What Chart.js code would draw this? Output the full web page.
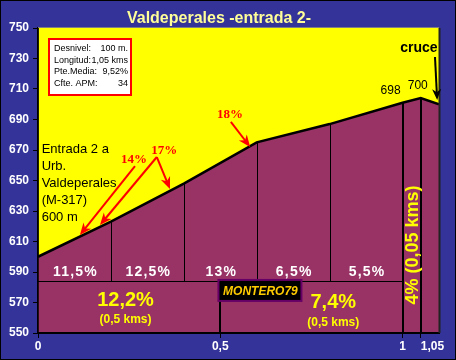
<!DOCTYPE html>
<html>
<head>
<meta charset="utf-8">
<script src="https://cdn.jsdelivr.net/npm/chart.js@4.4.0/dist/chart.umd.min.js"></script>
<style>
  html, body { margin: 0; padding: 0; background: #333399; }
  #wrap { width: 456px; height: 360px; }
</style>
</head>
<body>
<div id="wrap"><canvas id="perfil" width="456" height="360"></canvas></div>
<script>
// perfil: km recorridos y altitud (m)
const kms = [0, 0.2, 0.4, 0.6, 0.8, 1, 1.05, 1.1];
const altitudes = [600, 623, 648, 675, 687, 701, 704, 700];
const tramoGrades = ['11,5%', '12,5%', '13%', '6,5%', '5,5%'];
const pointLabels = ['698', '700'];          // km 1 y 1,05
const summaryGrades = ['12,2%', '7,4%', '4%'];
const summaryLengths = ['(0,5 kms)', '(0,5 kms)', '(0,05 kms)'];
const xTicks = [0, 0.5, 1, 1.05];
const yMin = 550, yMax = 750, yStep = 20;
const infoRows = [
    ['Desnivel:', '100 m.'],
    ['Longitud:', '1,05 kms'],
    ['Pte.Media:', '9,52%'],
    ['Cfte. APM:', '34'],
];
const entradaLines = ['Entrada 2 a', 'Urb.', 'Valdeperales', '(M-317)', '600 m'];
const chartTitle = 'Valdeperales -entrada 2-';

const SANS = 'Arial, "Liberation Sans", sans-serif';
const SERIF = '"Times New Roman", "Liberation Serif", serif';

function arrow(ctx, x1, y1, x2, y2, color, len, wid) {
    const ang = Math.atan2(y2 - y1, x2 - x1);
    ctx.save();
    ctx.strokeStyle = color;
    ctx.fillStyle = color;
    ctx.lineWidth = 2;
    ctx.beginPath();
    ctx.moveTo(x1, y1);
    ctx.lineTo(x2 - Math.cos(ang) * len * 0.6, y2 - Math.sin(ang) * len * 0.6);
    ctx.stroke();
    ctx.translate(x2, y2);
    ctx.rotate(ang);
    ctx.beginPath();
    ctx.moveTo(0, 0);
    ctx.lineTo(-len, -wid / 2);
    ctx.lineTo(-len * 0.7, 0);
    ctx.lineTo(-len, wid / 2);
    ctx.closePath();
    ctx.fill();
    ctx.restore();
}

function line(ctx, x1, y1, x2, y2, w) {
    ctx.lineWidth = w;
    ctx.beginPath();
    ctx.moveTo(x1, y1);
    ctx.lineTo(x2, y2);
    ctx.stroke();
}

const perfilPlugin = {
    id: 'perfil',
    beforeDraw(chart) {
        const { ctx, chartArea: a, width, height } = chart;
        ctx.save();
        ctx.fillStyle = '#333399';
        ctx.fillRect(0, 0, width, height);
        ctx.fillStyle = '#ffff00';
        ctx.fillRect(a.left, a.top, a.right - a.left, a.bottom - a.top);
        ctx.restore();
    },
    afterDatasetsDraw(chart) {
        const { ctx, chartArea: a } = chart;
        const X = v => chart.scales.x.getPixelForValue(v);
        const Y = v => chart.scales.y.getPixelForValue(v);
        ctx.save();
        ctx.strokeStyle = '#000';

        // separaciones de tramos
        for (let i = 1; i <= 4; i++) {
            const x = Math.round(X(kms[i])) + 0.5;
            line(ctx, x, Y(altitudes[i]), x, Y(584), 1);
        }
        for (let i = 5; i <= 6; i++) {
            const x = Math.round(X(kms[i]));
            line(ctx, x, Y(altitudes[i]), x, a.bottom, 2);
        }
        const yd = Math.round(Y(584)) + 0.5;
        line(ctx, X(0), yd, X(1), yd, 1);
        line(ctx, Math.round(X(0.5)), yd, Math.round(X(0.5)), a.bottom, 2);

        // pendientes por tramo
        ctx.fillStyle = '#fff';
        ctx.font = 'bold 14px ' + SANS;
        ctx.letterSpacing = '1.2px';
        ctx.textAlign = 'center';
        ctx.textBaseline = 'middle';
        tramoGrades.forEach((g, i) => {
            ctx.fillText(g, X((kms[i] + kms[i + 1]) / 2) + 1, Y(590));
        });
        ctx.letterSpacing = '0px';

        // resumen
        ctx.fillStyle = '#ffff00';
        ctx.font = 'bold 20px ' + SANS;
        ctx.fillText(summaryGrades[0], X(0.24), Y(571.6));
        ctx.fillText(summaryGrades[1], X(0.81), Y(569.7));
        ctx.font = 'bold 12px ' + SANS;
        ctx.fillText(summaryLengths[0], X(0.24), Y(558.5));
        ctx.fillText(summaryLengths[1], X(0.81), Y(556.6));
        ctx.save();
        ctx.translate(X(1.028), Y(607.7));
        ctx.rotate(-Math.PI / 2);
        ctx.font = 'bold 18px ' + SANS;
        ctx.fillText(summaryGrades[2] + ' ' + summaryLengths[2], 0, 0);
        ctx.restore();

        // firma
        const bx = X(0.495), by = Y(584.8);
        ctx.fillStyle = '#000';
        ctx.fillRect(bx, by, 83, 21);
        ctx.strokeStyle = '#660066';
        ctx.lineWidth = 2;
        ctx.strokeRect(bx, by, 83, 21);
        ctx.fillStyle = '#ffcc00';
        ctx.font = 'italic bold 12px ' + SANS;
        ctx.fillText('MONTERO79', bx + 42, by + 11.5);

        // ejes por encima del relleno
        ctx.strokeStyle = '#000';
        line(ctx, a.left, a.bottom, a.right, a.bottom, 2);
        line(ctx, a.left, a.top, a.left, a.bottom, 1.5);
        ctx.restore();
    },
    afterDraw(chart) {
        const { ctx, chartArea: a, width, height } = chart;
        const X = v => chart.scales.x.getPixelForValue(v);
        const Y = v => chart.scales.y.getPixelForValue(v);
        ctx.save();

        // borde del área de trazado
        ctx.strokeStyle = '#808080';
        line(ctx, a.left, a.top - 0.5, a.right, a.top - 0.5, 1);
        ctx.strokeStyle = '#222';
        line(ctx, a.right + 0.5, a.top, a.right + 0.5, a.bottom, 2);

        // título
        ctx.fillStyle = '#ffff99';
        ctx.font = 'bold 16px ' + SANS;
        ctx.textAlign = 'center';
        ctx.textBaseline = 'middle';
        ctx.fillText(chartTitle, 219, 19);

        // cuadro de datos
        const ix = a.left + 11, iy = a.top + 11;
        ctx.fillStyle = '#fff';
        ctx.fillRect(ix, iy, 82, 56);
        ctx.strokeStyle = '#ff0000';
        ctx.lineWidth = 2;
        ctx.strokeRect(ix, iy, 82, 56);
        ctx.fillStyle = '#000';
        ctx.font = '9px ' + SANS;
        infoRows.forEach((r, i) => {
            const y = iy + 9.5 + i * 11.7;
            ctx.textAlign = 'left';
            ctx.fillText(r[0], ix + 5, y);
            ctx.textAlign = 'right';
            ctx.fillText(r[1], ix + 79, y);
        });

        // texto de inicio
        ctx.textAlign = 'left';
        ctx.font = '13px ' + SANS;
        entradaLines.forEach((t, i) => ctx.fillText(t, X(0.01), Y(670.7) + i * 17));

        // cotas
        ctx.font = '12px ' + SANS;
        ctx.textAlign = 'center';
        ctx.fillText(pointLabels[0], X(kms[5]) - 12, Y(altitudes[5]) - 12.5);
        ctx.fillText(pointLabels[1], X(kms[6]) - 3, Y(altitudes[6]) - 12);

        // cruce
        ctx.font = 'bold 14px ' + SANS;
        ctx.fillText('cruce', X(1.045), Y(736.9));
        arrow(ctx, X(1.089), Y(731), X(1.095), Y(702.8), '#000', 11, 9);

        // rampas máximas
        ctx.fillStyle = '#ff0000';
        ctx.font = 'bold 13px ' + SERIF;
        ctx.fillText('14%', X(0.263), Y(663.4));
        ctx.fillText('17%', X(0.346), Y(669.3));
        ctx.fillText('18%', X(0.527), Y(693));
        arrow(ctx, X(0.266), Y(659.5), X(0.115), Y(614.3), '#ff0000', 12, 10);
        arrow(ctx, X(0.326), Y(665.4), X(0.170), Y(620.8), '#ff0000', 12, 10);
        arrow(ctx, X(0.326), Y(665.4), X(0.362), Y(644.4), '#ff0000', 12, 10);
        arrow(ctx, X(0.529), Y(688.4), X(0.582), Y(672), '#ff0000', 12, 10);

        // marco exterior
        ctx.strokeStyle = '#000';
        ctx.lineWidth = 1;
        ctx.strokeRect(0.5, 0.5, width - 1, height - 1);
        ctx.restore();
    }
};

const axisFont = { family: SANS, size: 12, weight: 'bold' };

new Chart(document.getElementById('perfil'), {
    type: 'line',
    data: {
        datasets: [{
            data: kms.map((k, i) => ({ x: k, y: altitudes[i] })),
            fill: 'start',
            backgroundColor: '#993366',
            borderColor: '#000',
            borderWidth: 2.5,
            pointRadius: 0,
            tension: 0,
        }],
    },
    options: {
        responsive: false,
        animation: false,
        layout: { padding: { top: 28, right: 17, left: 0, bottom: 0 } },
        plugins: {
            legend: { display: false },
            tooltip: { enabled: false },
            title: { display: false },
        },
        scales: {
            x: {
                type: 'linear',
                min: 0,
                max: 1.1,
                afterBuildTicks: scale => { scale.ticks = xTicks.map(v => ({ value: v })); },
                afterFit: scale => { scale.height = 27; },
                grid: { drawOnChartArea: false, drawTicks: true, tickLength: 5, color: '#000' },
                border: { display: true, color: '#000', width: 2 },
                ticks: {
                    autoSkip: false,
                    maxRotation: 0,
                    color: '#fff',
                    font: axisFont,
                    padding: 1,
                    callback: v => (v === 1.05 ? '       ' : '') + String(v).replace('.', ','),
                },
            },
            y: {
                min: yMin,
                max: yMax,
                afterFit: scale => { scale.width = 38; },
                grid: { drawOnChartArea: false, drawTicks: true, tickLength: 5, color: '#000' },
                border: { display: true, color: '#000', width: 1.5 },
                ticks: { stepSize: yStep, color: '#fff', font: axisFont, padding: 4 },
            },
        },
    },
    plugins: [perfilPlugin],
});
</script>
</body>
</html>
